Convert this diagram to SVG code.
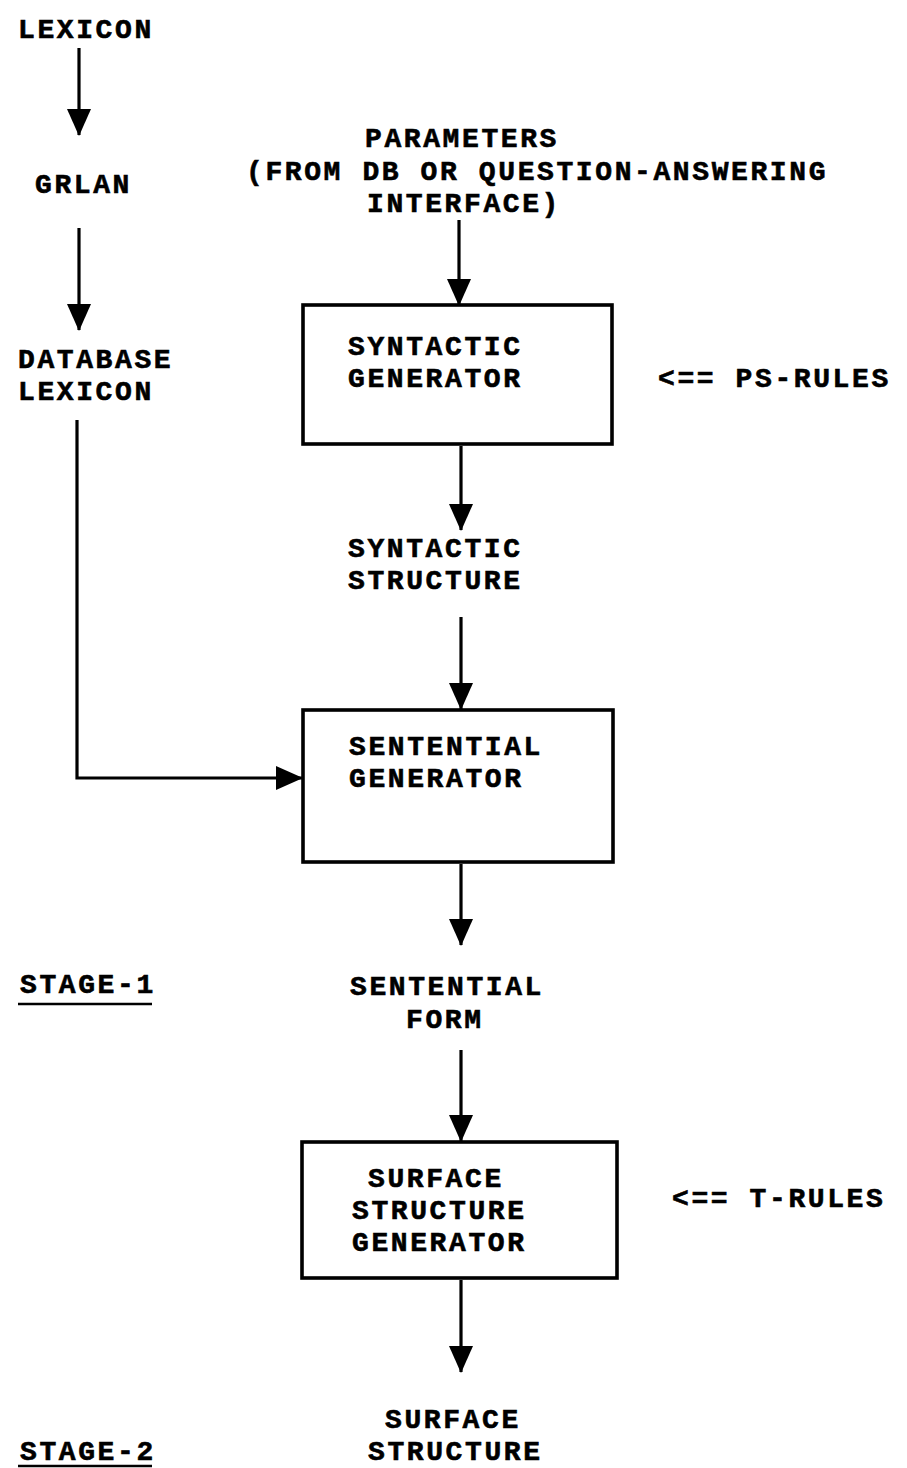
<svg xmlns="http://www.w3.org/2000/svg" width="907" height="1468" viewBox="0 0 907 1468">
  <style>
    text { font-family: "Liberation Mono", "Courier New", monospace; font-weight: bold; font-size: 28px; letter-spacing: 2.6px; fill: #000; stroke: #000; stroke-width: 0.6; }
    .conn { stroke: #000; stroke-width: 3.2; fill: none; }
    .box { fill: none; stroke: #000; stroke-width: 3.6; }
    .rule { stroke: #000; stroke-width: 2.5; }
  </style>
  <defs>
    <marker id="head" viewBox="0 0 27 24" refX="26" refY="12" markerWidth="27" markerHeight="24" markerUnits="userSpaceOnUse" orient="auto">
      <path d="M0,0 L27,12 L0,24 z" fill="#000"/>
    </marker>
  </defs>
  <rect width="907" height="1468" fill="#fff"/>

  <!-- connectors -->
  <g id="connectors">
    <line class="conn" x1="79" y1="48" x2="79" y2="135" marker-end="url(#head)"/>
    <line class="conn" x1="79" y1="228" x2="79" y2="330" marker-end="url(#head)"/>
    <line class="conn" x1="459" y1="220" x2="459" y2="305" marker-end="url(#head)"/>
    <line class="conn" x1="461" y1="446" x2="461" y2="530" marker-end="url(#head)"/>
    <line class="conn" x1="461" y1="617" x2="461" y2="709" marker-end="url(#head)"/>
    <path class="conn" d="M77,420 V778 H302" marker-end="url(#head)"/>
    <line class="conn" x1="461" y1="864" x2="461" y2="945" marker-end="url(#head)"/>
    <line class="conn" x1="461" y1="1050" x2="461" y2="1141" marker-end="url(#head)"/>
    <line class="conn" x1="461" y1="1280" x2="461" y2="1372" marker-end="url(#head)"/>
  </g>

  <!-- lexicon chain -->
  <g id="lexicon"><text x="18" y="38">LEXICON</text></g>
  <g id="grlan"><text x="35" y="193">GRLAN</text></g>
  <g id="database-lexicon">
    <text x="18" y="368">DATABASE</text>
    <text x="18" y="400">LEXICON</text>
  </g>

  <!-- input parameters -->
  <g id="parameters">
    <text x="365" y="147">PARAMETERS</text>
    <text x="246" y="180">(FROM DB OR QUESTION-ANSWERING</text>
    <text x="367" y="212">INTERFACE)</text>
  </g>

  <g id="syntactic-generator">
    <rect class="box" x="303" y="305" width="309" height="139"/>
    <text x="348" y="355">SYNTACTIC</text>
    <text x="348" y="387">GENERATOR</text>
  </g>
  <g id="ps-rules"><text x="658" y="387">&lt;== PS-RULES</text></g>

  <g id="syntactic-structure">
    <text x="348" y="557">SYNTACTIC</text>
    <text x="348" y="589">STRUCTURE</text>
  </g>

  <g id="sentential-generator">
    <rect class="box" x="303" y="710" width="310" height="152"/>
    <text x="349" y="755">SENTENTIAL</text>
    <text x="349" y="787">GENERATOR</text>
  </g>

  <g id="stage-1">
    <text x="20" y="993">STAGE-1</text>
    <line class="rule" x1="18" y1="1004" x2="152" y2="1004"/>
  </g>

  <g id="sentential-form">
    <text x="350" y="995">SENTENTIAL</text>
    <text x="406" y="1028">FORM</text>
  </g>

  <g id="surface-structure-generator">
    <rect class="box" x="302" y="1142" width="315" height="136"/>
    <text x="368" y="1187">SURFACE</text>
    <text x="352" y="1219">STRUCTURE</text>
    <text x="352" y="1251">GENERATOR</text>
  </g>
  <g id="t-rules"><text x="672" y="1207">&lt;== T-RULES</text></g>

  <g id="surface-structure">
    <text x="385" y="1428">SURFACE</text>
    <text x="368" y="1460">STRUCTURE</text>
  </g>

  <g id="stage-2">
    <text x="20" y="1460">STAGE-2</text>
    <line class="rule" x1="18" y1="1466" x2="152" y2="1466"/>
  </g>
</svg>
